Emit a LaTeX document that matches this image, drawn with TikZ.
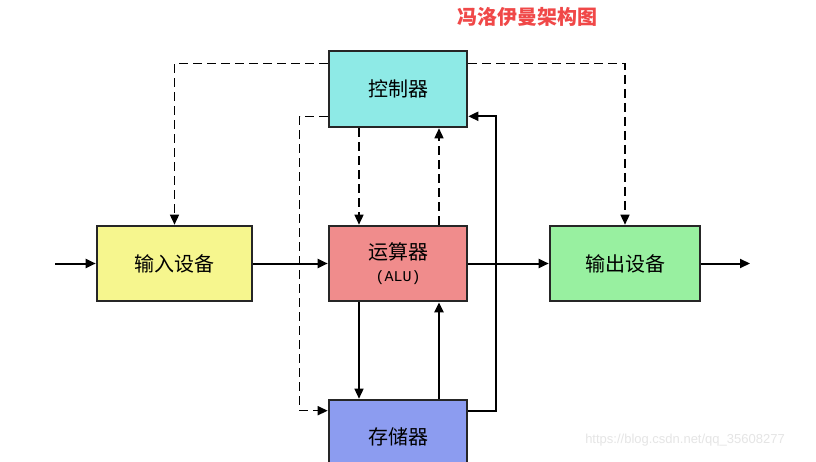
\documentclass[tikz,border=0pt]{standalone}
\usepackage{fontspec}
\setmainfont{Noto Sans CJK SC}
\newfontfamily\monofont{Liberation Mono}
\newfontfamily\wmfont{Liberation Sans}
\usepackage{tikz}
\usetikzlibrary{positioning,arrows.meta,calc}
\definecolor{ctrlcyan}{RGB}{142,234,230}
\definecolor{alured}{RGB}{240,140,140}
\definecolor{memblue}{RGB}{140,156,240}
\definecolor{inyellow}{RGB}{246,246,142}
\definecolor{outgreen}{RGB}{152,240,160}
\definecolor{titlered}{RGB}{240,72,72}

\begin{document}
\begin{tikzpicture}[x=1pt, y=1pt, >={Triangle[length=10pt,width=9pt]},
    unit/.style={draw=black!85, line width=2.6pt, inner sep=0pt, font=\fontsize{20}{23}\selectfont},
    ctrlline/.style={line width=1.5pt, dash pattern=on 9pt off 5pt},
    dataline/.style={line width=2pt}]

    \clip (0,0) rectangle (816,461);
    \fill[white] (0,0) rectangle (816,461);

    % ================= TITLE =================
    \node[font=\fontsize{20}{24}\selectfont\bfseries, text=titlered] (title) at (527,444) {冯洛伊曼架构图};

    % ================= UNITS =================
    \node[unit, fill=ctrlcyan, minimum width=138pt, minimum height=76pt] (ctrl) at (398,372) {控制器};
    \node[unit, fill=alured, minimum width=138pt, minimum height=75pt, align=center] (alu) at (398,197.5)
        {运算器\\[-1pt]{\monofont\fontsize{15}{18}\selectfont(ALU)}};
    \node[unit, fill=memblue, minimum width=138pt, minimum height=74pt] (mem) at (398,24) {存储器};
    \node[unit, fill=inyellow, minimum width=155pt, minimum height=75pt] (inp) at (174.5,197.5) {输入设备};
    \node[unit, fill=outgreen, minimum width=150pt, minimum height=75pt] (outp) at (625,197.5) {输出设备};

    % free ends of the outer data path
    \coordinate (src) at (55,197.5);
    \coordinate (snk) at (750,197.5);

    % ================= DATA FLOW =================
    \draw[->, dataline] (src) -- (inp.west);
    \draw[->, dataline] (inp.east) -- (alu.west);
    \draw[->, dataline] (alu.east) -- (outp.west);
    \draw[->, dataline] (outp.east) -- (snk);
    \draw[->, line width=1.5pt] ([xshift=-39pt]alu.south) -- ([xshift=-39pt]mem.north);
    \draw[->, line width=2.4pt] ([xshift=41pt]mem.north) -- ([xshift=41pt]alu.south);
    \draw[->, dataline] ([yshift=-12pt]mem.north east) -- ++(28pt,0) |- ([yshift=12pt]ctrl.south east);

    % ================= CONTROL SIGNALS =================
    \draw[->, ctrlline] ([yshift=-14pt]ctrl.north west) -| (inp.north);
    \draw[->, ctrlline] ([yshift=-14pt]ctrl.north east) -| (outp.north);
    \draw[->, ctrlline] ([yshift=12pt]ctrl.south west) -- ++(-28pt,0) |- ([yshift=-12pt]mem.north west);
    \draw[->, ctrlline] ([xshift=-39pt]ctrl.south) -- ([xshift=-39pt]alu.north);
    \draw[->, ctrlline] ([xshift=41pt]alu.north) -- ([xshift=41pt]ctrl.south);

    % watermark
    \node[font=\wmfont\fontsize{13}{15}\selectfont, text=black!10] (wm) at (685,21) {https://blog.csdn.net/qq\_35608277};

\end{tikzpicture}
\end{document}
